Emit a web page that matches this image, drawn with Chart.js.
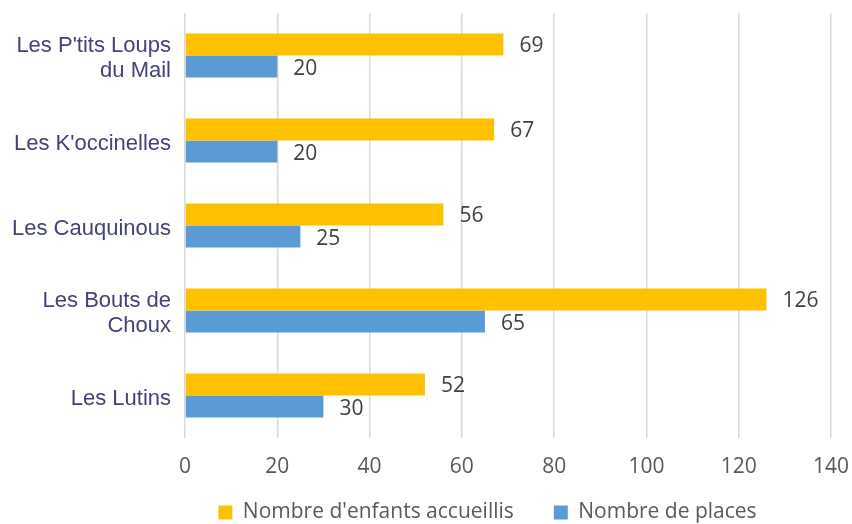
<!DOCTYPE html>
<html>
<head>
<meta charset="utf-8">
<script src="https://cdn.jsdelivr.net/npm/chart.js@4/dist/chart.umd.min.js"></script>
<style>
  html, body { margin: 0; padding: 0; background: #ffffff; }
  #box { width: 852px; height: 524px; }
</style>
</head>
<body>
<div id="box"><canvas id="grafico"></canvas></div>
<script>
const categories = [["Les P'tits Loups", "du Mail"], "Les K'occinelles", "Les Cauquinous", ["Les Bouts de", "Choux"], "Les Lutins"];
const enfantsAccueillis = [69, 67, 56, 126, 52];
const nombrePlaces = [20, 20, 25, 65, 30];
const xTicks = [0, 20, 40, 60, 80, 100, 120, 140];

const fonteTexte = "'Open Sans', 'DejaVu Sans', sans-serif";

// valeurs au bout des barres
const etiquettes = {
  id: "etiquettes",
  afterDatasetsDraw(chart) {
    const ctx = chart.ctx;
    ctx.save();
    ctx.font = "21px " + fonteTexte;
    ctx.fillStyle = "#404040";
    ctx.textAlign = "left";
    ctx.textBaseline = "middle";
    chart.data.datasets.forEach((ds, i) => {
      const meta = chart.getDatasetMeta(i);
      meta.data.forEach((bar, j) => {
        ctx.fillText(String(ds.data[j]), bar.x + 16, bar.y + 2);
      });
    });
    ctx.restore();
  }
};

// legende un peu decalee, comme dans l'original
const decalageLegende = {
  id: "decalageLegende",
  afterLayout(chart) {
    const lg = chart.legend;
    if (!lg) return;
    const dx = 72, dy = -26;
    lg.left += dx; lg.right += dx;
    lg.top += dy; lg.bottom += dy;
  }
};

new Chart(document.getElementById("grafico"), {
  type: "bar",
  data: {
    labels: categories,
    datasets: [
      { label: "Nombre d'enfants accueillis", data: enfantsAccueillis, backgroundColor: "#FFC000", categoryPercentage: 0.52, barPercentage: 1.0 },
      { label: "Nombre de places", data: nombrePlaces, backgroundColor: "#5B9BD5", categoryPercentage: 0.52, barPercentage: 1.0 }
    ]
  },
  options: {
    indexAxis: "y",
    responsive: true,
    maintainAspectRatio: false,
    animation: false,
    layout: { padding: { top: 13, right: 21, left: 0, bottom: -35 } },
    plugins: {
      legend: {
        position: "bottom",
        labels: {
          color: "#595959",
          font: { family: fonteTexte, size: 21 },
          boxWidth: 14,
          boxHeight: 14,
          padding: 40
        }
      },
      tooltip: { enabled: false }
    },
    scales: {
      x: {
        min: 0,
        max: 140,
        afterBuildTicks: scale => { scale.ticks = xTicks.map(v => ({ value: v })); },
        afterFit: scale => { scale.height = 50; scale.paddingLeft = 0; scale.paddingRight = 0; },
        ticks: { color: "#595959", font: { family: fonteTexte, size: 21 }, padding: 16 },
        grid: { color: "#d9d9d9", lineWidth: 1.5, drawTicks: false },
        border: { display: false }
      },
      y: {
        afterFit: scale => { scale.width = 185; scale.paddingTop = 0; scale.paddingBottom = 0; },
        ticks: { color: "#43437a", font: { family: "'Liberation Sans', Arial, sans-serif", size: 22, lineHeight: 1.1 }, padding: 14, labelOffset: 3 },
        grid: { display: false, drawTicks: false },
        border: { display: false }
      }
    }
  },
  plugins: [etiquettes, decalageLegende]
});
</script>
</body>
</html>
